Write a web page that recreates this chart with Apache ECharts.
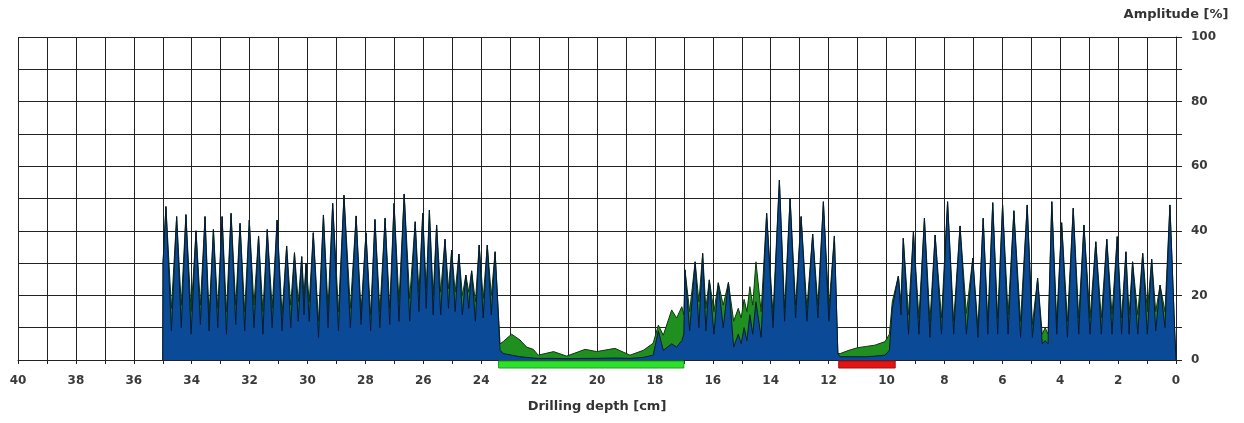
<!DOCTYPE html>
<html>
<head>
<meta charset="utf-8">
<script src="https://cdn.jsdelivr.net/npm/echarts@6/dist/echarts.min.js"></script>
<style>
html,body{margin:0;padding:0;background:#fff;}
#c{width:1244px;height:423px;}
</style>
</head>
<body>
<div id="c"></div>
<script>
// Depth vertices [cm] (peaks and troughs)
var depths = [
35.00,34.99,34.89,34.70,34.52,34.36,34.20,34.02,33.85,33.70,33.54,33.40,33.25,33.10,32.95,32.80,32.64,32.48,32.33,32.17,
32.01,31.85,31.69,31.54,31.39,31.22,31.05,30.88,30.72,30.58,30.45,30.32,30.20,30.12,30.05,29.94,29.80,29.62,29.45,29.29,
29.13,28.93,28.74,28.52,28.32,28.15,27.98,27.82,27.67,27.50,27.32,27.16,27.01,26.84,26.66,26.47,26.28,26.15,26.02,25.90,
25.79,25.66,25.54,25.40,25.25,25.13,25.02,24.90,24.77,24.65,24.53,24.43,24.33,24.20,24.07,23.93,23.79,23.65,23.52,23.35,
23.24,22.95,22.66,22.43,22.20,22.03,21.50,21.05,20.41,20.01,19.38,18.86,18.40,18.06,17.88,17.71,17.42,17.25,17.07,
17.00,16.96,16.80,16.61,16.48,16.35,16.24,16.12,15.96,15.81,15.64,15.46,15.28,15.12,15.02,14.92,14.82,14.72,14.62,14.51,
14.33,14.14,13.92,13.70,13.52,13.33,13.14,12.95,12.75,12.55,12.37,12.18,11.99,11.80,11.68,
11.60,11.30,11.00,10.70,10.40,10.05,9.90,
9.80,9.59,9.50,9.42,9.24,9.07,8.88,8.69,8.50,8.32,8.10,7.89,7.68,7.46,7.24,7.02,6.84,6.66,6.50,6.33,
6.16,5.99,5.80,5.60,5.37,5.14,4.96,4.78,4.62,4.52,4.42,4.29,4.12,3.95,3.75,3.55,3.36,3.18,2.97,2.77,
2.58,2.39,2.21,2.03,1.88,1.73,1.62,1.50,1.32,1.15,0.99,0.84,0.70,0.55,0.38,0.21,0.05,0.00
];
// Blue amplitude [%]
var blueAmp = [
0,30,47.5,9,44.4,10,45,8,40,11,44.4,9,40.4,10,44.4,8,45.4,11,42.3,9,
43.3,10,38.4,8,40.4,10,43.3,9,35.3,10,33.2,12,32,14,30,12,39.4,7,44.9,10,
48.5,9,51,10,44.6,11,39.4,9,43.5,10,43.9,11,48.5,12,51.4,12,42.8,15,45.4,16,
46.4,14,41.8,14,37.4,16,34,15,32.8,14,26.3,16,27.6,12,35.6,13,35.6,14,33.5,3,
2,1.5,1,0.8,0.6,0.5,0.5,0.4,0.5,0.5,0.6,0.5,0.8,1.5,9,3,5,4,6,
8,27.9,9,30.4,10,33,9,24.8,8,23.9,10,24,4,8,5,10,6,14,8,18,
7,45.4,10,55.7,12,50,13,44.4,12,39,13,49,12,38.4,2,
1,1,1,1,1.2,1.5,3,
16,26,14,37.7,8,39.7,8,43.9,7,38.7,8,49,8,41.5,8,31.5,7,43.9,8,48.7,
8,48,8,46.2,7,48,7,25.3,5,6,5,49,8,42.5,7,47,8,41.8,8,36.6,
8,37.4,8,38.2,8,33.5,8,30.4,8,33,8,31.2,9,23.2,10,48,10,0
];
// Green amplitude [%]
var greenAmp = [
0,30,47.5,16,44.4,17,45,15,40,17,44.4,14,40.4,16,44.4,15,45.4,17,42.3,15,
43.3,17,38.4,15,40.4,16,43.3,14,35.3,17,33.2,18,32,20,30,18,39.4,12,44.9,16,
48.5,15,51,16,44.6,15,39.4,14,43.5,15,43.9,16,48.5,18,51.4,19,42.8,21,45.4,22,
46.4,20,41.8,21,37.4,22,34,21,32.8,20,26.3,21,27.6,18,35.6,19,35.6,20,33.5,5,
5.7,8,6.2,4,3.3,1.5,2.6,1.2,3.3,2.6,3.6,1.5,3,5.2,10.8,7.7,15.5,13,16.5,
14,27.9,15,30.4,18,33,16,24.8,15,23.9,17,24,12,16,13,18.8,15,22.7,17,30.4,
15,45.4,14,55.7,16,50,17,44.4,16,39,17,49,16,38.4,2,
2,3,3.8,4.2,4.6,5.7,8,
18,26,18,37.7,14,39.7,13,43.9,12,38.7,13,49,12,41.5,14.5,31.5,10,43.9,12,48.7,
13,48,14,46.2,12,48,11,25.3,8,10,8,49,12,42.5,12,47,13,41.8,13,36.6,
13,37.4,14,38.2,13,33.5,14,30.4,14,33,15,31.2,15,23.2,15,48,10,0
];
// Marked depth zones below the axis: [from, to]
var greenZone = [23.4, 17.0];
var redZone = [11.65, 9.7];
var xTickLabels = ['0','2','4','6','8','10','12','14','16','18','20','22','24','26','28','30','32','34','36','38','40'];
var yTickLabels = ['0','20','40','60','80','100'];

function pairs(ys){ return depths.map(function(d,i){ return [d, ys[i]]; }); }

var chart = echarts.init(document.getElementById('c'), null, {renderer:'canvas'});
var font = '"DejaVu Sans", Verdana, sans-serif';
chart.setOption({
  animation:false,
  backgroundColor:'#fff',
  grid:{left:18, right:68, top:37, bottom:63, containLabel:false},
  xAxis:{
    type:'value', min:0, max:40, interval:1, inverse:true,
    name:'Drilling depth [cm]', nameLocation:'middle', nameGap:40,
    nameTextStyle:{fontFamily:font, fontSize:13, fontWeight:'bold', color:'#333'},
    axisLine:{show:true, onZero:false, lineStyle:{color:'#222', width:1}},
    axisTick:{show:true, length:4, lineStyle:{color:'#222'}},
    axisLabel:{margin:15, fontFamily:font, fontSize:12, fontWeight:'bold', color:'#3a3a3a',
      formatter:function(v){ var s=String(Math.round(v)); return xTickLabels.indexOf(s)>=0 && Math.round(v)%2===0 ? s : ''; }},
    splitLine:{show:true, lineStyle:{color:'#222', width:1}}
  },
  yAxis:{
    type:'value', min:0, max:100, interval:10, position:'right',
    name:'Amplitude [%]', nameLocation:'end', nameGap:16,
    nameTextStyle:{fontFamily:font, fontSize:13, fontWeight:'bold', color:'#333', align:'center'},
    axisLine:{show:true, lineStyle:{color:'#222', width:1}},
    axisTick:{show:true, length:6, lineStyle:{color:'#222'}},
    axisLabel:{margin:15, fontFamily:font, fontSize:12, fontWeight:'bold', color:'#3a3a3a',
      formatter:function(v){ var s=String(Math.round(v)); return yTickLabels.indexOf(s)>=0 ? s : ''; }},
    splitLine:{show:true, lineStyle:{color:'#222', width:1}}
  },
  series:[
    {type:'line', name:'green', data:pairs(greenAmp), symbol:'none', smooth:false, z:2,
     lineStyle:{color:'#0d3a0d', width:1}, areaStyle:{color:'#1f8f1f', opacity:1}},
    {type:'line', name:'blue', data:pairs(blueAmp), symbol:'none', smooth:false, z:3,
     lineStyle:{color:'#071a33', width:1}, areaStyle:{color:'#0b4a96', opacity:1}},
    {type:'custom', z:5, clip:false,
     data:[[greenZone[0], greenZone[1], 0],[redZone[0], redZone[1], 1]],
     renderItem:function(params, api){
       var a = api.coord([api.value(0), 0]);
       var b = api.coord([api.value(1), 0]);
       var x = Math.min(a[0], b[0]);
       var w = Math.abs(b[0]-a[0]);
       var isRed = api.value(2) === 1;
       return {type:'rect', shape:{x:x, y:a[1]+1, width:w, height:7},
         style:{fill: isRed ? '#e31414' : '#2ee02e', stroke: isRed ? '#a01010' : '#1aa01a', lineWidth:1}};
     }}
  ]
});
</script>
</body>
</html>
